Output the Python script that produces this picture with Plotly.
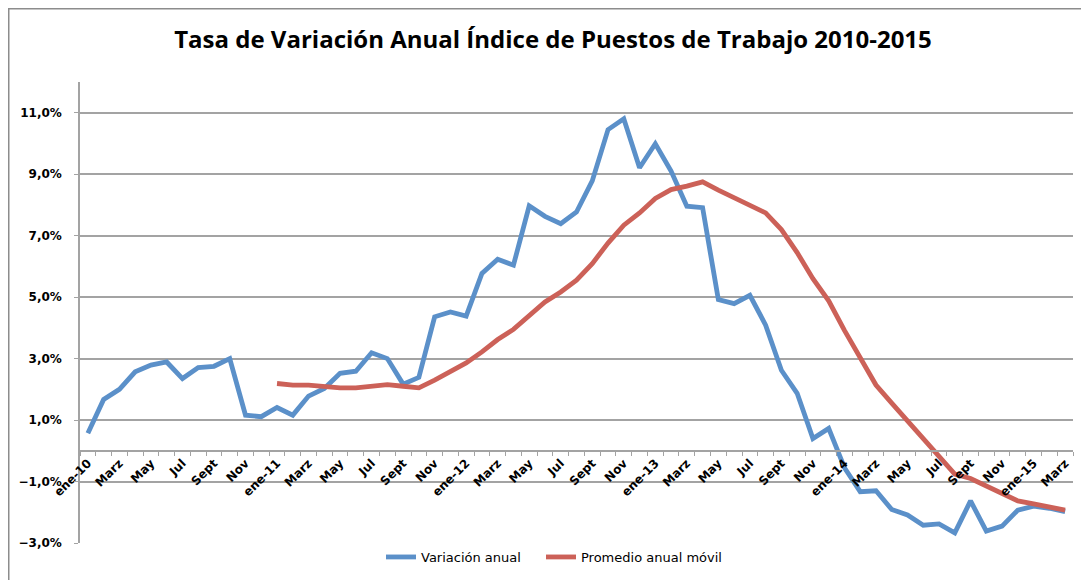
import plotly.graph_objects as go

# Tasa de variación anual, índice de puestos de trabajo (%), ene-2010 .. mar-2015
variacion = [
    0.57, 1.67, 2.00, 2.57, 2.79, 2.89, 2.35, 2.71, 2.75, 3.00, 1.16, 1.11,
    1.41, 1.16, 1.78, 2.03, 2.52, 2.59, 3.19, 3.00, 2.17, 2.39, 4.36, 4.52,
    4.38, 5.77, 6.23, 6.04, 7.97, 7.63, 7.39, 7.77, 8.78, 10.45, 10.80, 9.21,
    9.99, 9.10, 7.96, 7.91, 4.92, 4.79, 5.06, 4.09, 2.62, 1.87, 0.40, 0.73,
    -0.55, -1.33, -1.30, -1.91, -2.09, -2.42, -2.38, -2.67, -1.63, -2.61, -2.45, -1.93,
    -1.80, -1.87, -1.98,
]
promedio = [
    None, None, None, None, None, None, None, None, None, None, None, None,
    2.19, 2.14, 2.14, 2.10, 2.05, 2.05, 2.10, 2.15, 2.10, 2.05, 2.30, 2.57,
    2.86, 3.22, 3.62, 3.95, 4.41, 4.84, 5.17, 5.55, 6.09, 6.76, 7.34, 7.74,
    8.21, 8.50, 8.61, 8.75, 8.48, 8.24, 8.02, 7.74, 7.20, 6.45, 5.60, 4.88,
    3.92, 3.00, 2.14, 1.55, 0.98, 0.40, -0.20, -0.76, -0.90, -1.15, -1.37, -1.63,
    -1.73, -1.82, -1.93,
]
tick_labels = [
    "ene-10", "Marz", "May", "Jul", "Sept", "Nov",
    "ene-11", "Marz", "May", "Jul", "Sept", "Nov",
    "ene-12", "Marz", "May", "Jul", "Sept", "Nov",
    "ene-13", "Marz", "May", "Jul", "Sept", "Nov",
    "ene-14", "Marz", "May", "Jul", "Sept", "Nov",
    "ene-15", "Marz",
]

months = list(range(len(variacion)))
# the page body adds an 8px margin, so the figure is drawn 8px smaller and shifted
OFF = 8
W, H = 1089 - OFF, 580 - OFF
L, T = 80 - OFF, 82 - OFF
R, B = W - (1073 - OFF), H - (543 - OFF)
GRID = "#a3a3a3"
YMIN, YMAX = -3, 12

fig = go.Figure()
fig.add_trace(go.Scatter(x=months, y=variacion, mode="lines", name="Variación anual",
                         line=dict(color="#5b90c9", width=4.8), legend="legend"))
fig.add_trace(go.Scatter(x=months, y=promedio, mode="lines", name="Promedio anual móvil",
                         line=dict(color="#cc6158", width=4.8), legend="legend2"))

pw, ph = W - L - R, H - T - B
# outer chart frame (cropped at right/bottom in the original)
fig.add_shape(type="rect", xref="paper", yref="paper",
              x0=(0.75 - L) / pw, x1=(W + 10 - L) / pw,
              y0=(H - B - (H + 10)) / ph, y1=(H - B - 0.75) / ph,
              line=dict(color="#8c8c8c", width=1.5), layer="below")


def legend_at(px):
    return dict(orientation="h", x=(px - OFF - L) / pw, xanchor="left",
                y=(H - B - (557 - OFF)) / ph, yanchor="middle",
                font=dict(family="DejaVu Sans", size=13, color="black"),
                bgcolor="rgba(0,0,0,0)", itemwidth=30)


fig.update_layout(
    width=W, height=H,
    margin=dict(l=L, r=R, t=T, b=B, autoexpand=False),
    paper_bgcolor="white", plot_bgcolor="white",
    separators=",.",
    title=dict(text="<b>Tasa de Variación Anual Índice de Puestos de Trabajo 2010-2015</b>",
               xref="container", yref="container", x=(553 - OFF) / W, xanchor="center",
               y=1 - (40 - OFF) / H, yanchor="middle",
               font=dict(family="Open Sans", size=24, color="black")),
    legend=legend_at(381),
    legend2=legend_at(541),
    showlegend=True,
)
fig.update_xaxes(
    type="linear", range=[-0.5, len(months) - 0.5], automargin=False,
    tickmode="array", tickvals=months[::2], ticktext=tick_labels,
    tickangle=-45, ticks="", showgrid=False, zeroline=False,
    showline=True, linecolor=GRID, linewidth=1.5,
    anchor="free", position=(0 - YMIN) / (YMAX - YMIN),
    tickfont=dict(family="DejaVu Sans", size=12, color="black", weight="bold"),
    minor=dict(ticks="outside", tickmode="linear", tick0=-0.5, dtick=1,
               ticklen=4, tickcolor=GRID, tickwidth=1, showgrid=False),
)
fig.update_yaxes(
    range=[YMIN, YMAX], tickmode="linear", tick0=YMIN, dtick=2, automargin=False,
    tickformat=".1f", ticksuffix="%",
    showgrid=True, gridcolor=GRID, gridwidth=1.5, zeroline=False,
    showline=True, linecolor=GRID, linewidth=1.5,
    ticks="outside", ticklen=4, tickcolor=GRID, ticklabelstandoff=10,
    tickfont=dict(family="DejaVu Sans", size=12, color="black", weight="bold"),
)

fig.write_html("out.html")
